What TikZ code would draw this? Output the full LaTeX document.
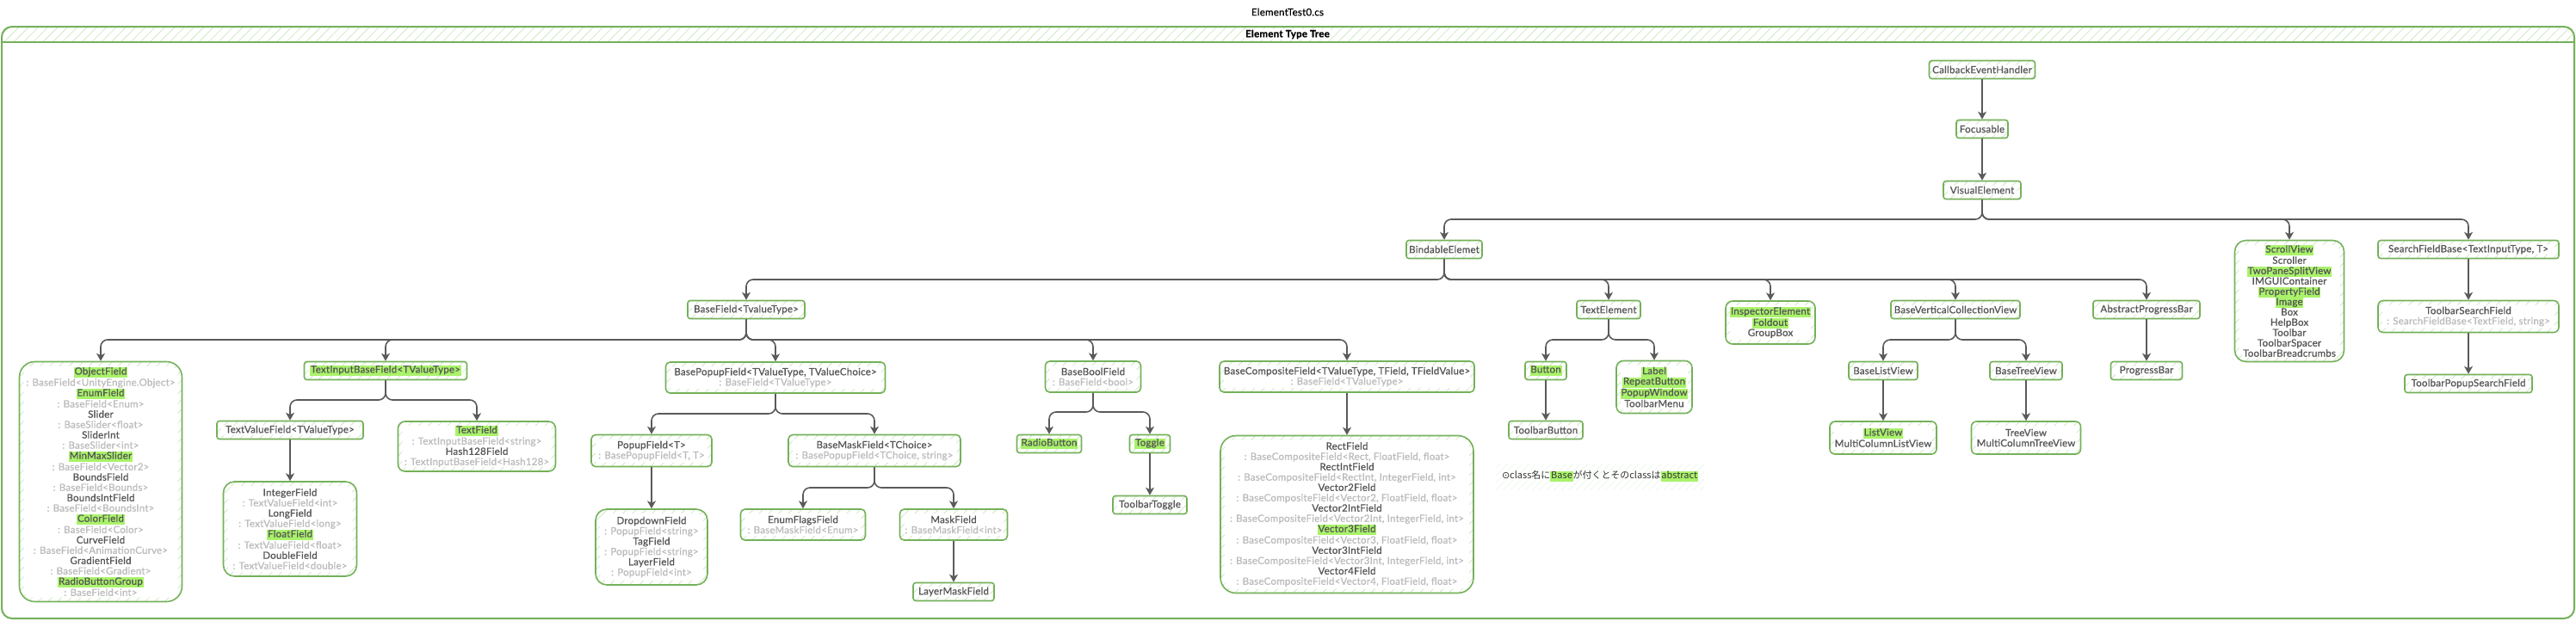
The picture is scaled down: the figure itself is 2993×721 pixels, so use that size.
\documentclass[tikz,border=0pt]{standalone}
\usepackage{fontspec}
\setmainfont{Lato}[LetterSpace=2,FakeBold=0.7]
\newfontfamily\cjk{Noto Sans CJK JP}
\newfontfamily\djv{DejaVu Sans}
\usetikzlibrary{arrows.meta,patterns.meta}
\definecolor{bxg}{HTML}{74B15A}
\definecolor{hatchg}{HTML}{CFE9C2}
\definecolor{hlg}{HTML}{A9F26A}
\definecolor{txt}{HTML}{555555}
\definecolor{subg}{HTML}{BBBBBB}
\definecolor{arr}{HTML}{5A5A5A}
\newcommand\hl[1]{{\setlength\fboxsep{0pt}\colorbox{hlg}{\kern0.8pt\strut #1\kern0.8pt}}}
\newcommand\sub[1]{{\color{subg}#1}}
\newcommand\hatchpic[1]{%
  \fill[pattern={Lines[angle=45,distance=8pt,line width=0.8pt]}, pattern color=hatchg] (path picture bounding box.south west) rectangle (path picture bounding box.north east);
  \fill[white, rounded corners=#1] ([shift={(5pt,5pt)}]path picture bounding box.south west) rectangle ([shift={(-5pt,-5pt)}]path picture bounding box.north east);}
\newcommand\tedge[3]{\draw[conn] (#1.south) -- (#1.south |- 0,#3) -- (#2.north |- 0,#3) -- (#2.north);}
\newcommand\sedge[2]{\draw[conn] (#1.south) -- (#2.north);}
\tikzset{
  bx/.style={draw=bxg, line width=1.6pt, rounded corners=3pt, fill=white, text=txt, align=center, inner sep=1.5pt,
    font=\fontsize{11.5}{12}\selectfont, path picture={\hatchpic{2pt}}},
  bigbx/.style={bx, rounded corners=13pt, path picture={\hatchpic{9pt}}},
  sz/.style 2 args={minimum width=#1pt, minimum height=#2pt},
  conn/.style={draw=arr, line width=1.6pt, rounded corners=8pt, -{Stealth[length=9pt,width=10pt,inset=2.5pt]}},
}
\begin{document}
\begin{tikzpicture}[x=1pt,y=-1pt]
\useasboundingbox (0,0) rectangle (2993,721);
% frame
\node[font=\fontsize{11.5}{12}\selectfont] (title) at (1496,14) {ElementTest0.cs};
\fill[pattern={Lines[angle=45,distance=8pt,line width=0.8pt]}, pattern color=hatchg] (4,32) rectangle (2989,49);
\draw[bxg, line width=2pt, rounded corners=12pt] (2,31) rectangle (2991,719);
\draw[bxg, line width=2pt] (2,49) -- (2991,49);
\node[fill=white, inner sep=1pt, font=\bfseries\fontsize{11.5}{12}\selectfont] (hdr) at (1496,40) {Element Type Tree};

% top chain
\node[bx, sz={123}{21}] (ceh) at (2303,81) {CallbackEventHandler};
\node[bx, sz={60}{21}] (foc) at (2303,150) {Focusable};
\node[bx, sz={90}{21}] (ve) at (2303,221) {VisualElement};
\node[bx, sz={88}{21}] (be) at (1678,290) {BindableElemet};
\node[bigbx, sz={127}{141}] (sv) at (2660,350) {\hl{ScrollView}\\Scroller\\\hl{TwoPaneSplitView}\\IMGUIContainer\\\hl{PropertyField}\\\hl{Image}\\Box\\HelpBox\\Toolbar\\ToolbarSpacer\\ToolbarBreadcrumbs};
\node[bx, sz={210}{21}] (sfb) at (2868,290) {SearchFieldBase<TextInputType, T>};
\node[bx, rounded corners=6pt, sz={210}{37}] (tsf) at (2868,368) {ToolbarSearchField\\\sub{: SearchFieldBase<TextField, string>}};
\node[bx, sz={148}{21}] (tpsf) at (2868,446) {ToolbarPopupSearchField};

% level under BindableElemet
\node[bx, sz={136}{21}] (bf) at (867,360) {BaseField<TvalueType>};
\node[bx, sz={74}{21}] (te) at (1869,360) {TextElement};
\node[bx, rounded corners=8pt, sz={104}{50}] (ie) at (2057,375) {\hl{InspectorElement}\\\hl{Foldout}\\GroupBox};
\node[bx, sz={150}{21}] (bvcv) at (2272,360) {BaseVerticalCollectionView};
\node[bx, sz={124}{21}] (apb) at (2494,360) {AbstractProgressBar};

\node[bx, sz={48}{21}] (btn) at (1796,431) {\hl{Button}};
\node[bx, rounded corners=8pt, sz={88}{61}] (lbl) at (1922,450) {\hl{Label}\\\hl{RepeatButton}\\\hl{PopupWindow}\\ToolbarMenu};
\node[bx, sz={86}{21}] (tbb) at (1796,500) {ToolbarButton};
\node[bx, sz={80}{21}] (blv) at (2188,431) {BaseListView};
\node[bx, sz={84}{21}] (btv) at (2354,431) {BaseTreeView};
\node[bx, sz={83}{21}] (pb) at (2494,431) {ProgressBar};
\node[bx, rounded corners=6pt, sz={124}{38}] (lv) at (2188,509) {\hl{ListView}\\MultiColumnListView};
\node[bx, rounded corners=6pt, sz={127}{38}] (tv) at (2354,509) {TreeView\\MultiColumnTreeView};

% BaseField children
\node[bigbx, rounded corners=18pt, sz={189}{279}] (of) at (117,560) {\hl{ObjectField}\\\sub{: BaseField<UnityEngine.Object>}\\\hl{EnumField}\\\sub{: BaseField<Enum>}\\Slider\\\sub{: BaseSlider<float>}\\SliderInt\\\sub{: BaseSlider<int>}\\\hl{MinMaxSlider}\\\sub{: BaseField<Vector2>}\\BoundsField\\\sub{: BaseField<Bounds>}\\BoundsIntField\\\sub{: BaseField<BoundsInt>}\\\hl{ColorField}\\\sub{: BaseField<Color>}\\CurveField\\\sub{: BaseField<AnimationCurve>}\\GradientField\\\sub{: BaseField<Gradient>}\\\hl{RadioButtonGroup}\\\sub{: BaseField<int>}};
\node[bx, sz={189}{21}] (tibf) at (448,431) {\hl{TextInputBaseField<TValueType>}};
\node[bx, rounded corners=5pt, sz={255}{36}] (bpf) at (901,439) {BasePopupField<TValueType, TValueChoice>\\\sub{: BaseField<TValueType>}};
\node[bx, rounded corners=5pt, sz={111}{36}] (bbf) at (1270,438) {BaseBoolField\\\sub{: BaseField<bool>}};
\node[bx, rounded corners=5pt, sz={296}{36}] (bcf) at (1565,438) {BaseCompositeField<TValueType, TField, TFieldValue>\\\sub{: BaseField<TValueType>}};

\node[bx, sz={170}{21}] (tvf) at (337,500) {TextValueField<TValueType>};
\node[bx, rounded corners=8pt, sz={183}{58}] (tf) at (554,519) {\hl{TextField}\\\sub{: TextInputBaseField<string>}\\Hash128Field\\\sub{: TextInputBaseField<Hash128>}};
\node[bigbx, sz={155}{110}] (intf) at (337,615) {IntegerField\\\sub{: TextValueField<int>}\\LongField\\\sub{: TextValueField<long>}\\\hl{FloatField}\\\sub{: TextValueField<float>}\\DoubleField\\\sub{: TextValueField<double>}};

\node[bx, rounded corners=5pt, sz={140}{37}] (pf) at (757,524) {PopupField<T>\\\sub{: BasePopupField<T, T>}};
\node[bx, rounded corners=5pt, sz={200}{37}] (bmf) at (1016,524) {BaseMaskField<TChoice>\\\sub{: BasePopupField<TChoice, string>}};
\node[bigbx, sz={130}{88}] (ddf) at (757,636) {DropdownField\\\sub{: PopupField<string>}\\TagField\\\sub{: PopupField<string>}\\LayerField\\\sub{: PopupField<int>}};
\node[bx, rounded corners=5pt, sz={145}{36}] (eff) at (933,610) {EnumFlagsField\\\sub{: BaseMaskField<Enum>}};
\node[bx, rounded corners=5pt, sz={125}{36}] (mf) at (1108,610) {MaskField\\\sub{: BaseMaskField<int>}};
\node[bx, sz={94}{21}] (lmf) at (1108,688) {LayerMaskField};

\node[bx, sz={75}{21}] (rb) at (1219,516) {\hl{RadioButton}};
\node[bx, sz={47}{21}] (tg) at (1336,516) {\hl{Toggle}};
\node[bx, sz={86}{21}] (ttg) at (1336,587) {ToolbarToggle};

\node[bigbx, rounded corners=18pt, sz={294}{183}] (rf) at (1565,598) {RectField\\\sub{: BaseCompositeField<Rect, FloatField, float>}\\RectIntField\\\sub{: BaseCompositeField<RectInt, IntegerField, int>}\\Vector2Field\\\sub{: BaseCompositeField<Vector2, FloatField, float>}\\Vector2IntField\\\sub{: BaseCompositeField<Vector2Int, IntegerField, int>}\\\hl{Vector3Field}\\\sub{: BaseCompositeField<Vector3, FloatField, float>}\\Vector3IntField\\\sub{: BaseCompositeField<Vector3Int, IntegerField, int>}\\Vector4Field\\\sub{: BaseCompositeField<Vector4, FloatField, float>}};

% note
\node[pattern={Lines[angle=45,distance=6pt,line width=0.6pt]}, pattern color=hatchg!45, sz={242}{30}, text=black!80, font=\cjk\fontsize{11}{12}\selectfont] (note) at (1859,554) {{\djv ⊙}class名に\hl{Base}が付くとそのclassは\hl{abstract}};

% connectors
\sedge{ceh}{foc}
\sedge{foc}{ve}
\tedge{ve}{be}{255}
\tedge{ve}{sv}{255}
\tedge{ve}{sfb}{255}
\sedge{sfb}{tsf}
\sedge{tsf}{tpsf}
\tedge{be}{bf}{325}
\tedge{be}{te}{325}
\tedge{be}{ie}{325}
\tedge{be}{bvcv}{325}
\tedge{be}{apb}{325}
\tedge{te}{btn}{395}
\tedge{te}{lbl}{395}
\sedge{btn}{tbb}
\tedge{bvcv}{blv}{395}
\tedge{bvcv}{btv}{395}
\sedge{blv}{lv}
\sedge{btv}{tv}
\sedge{apb}{pb}
\tedge{bf}{of}{395}
\tedge{bf}{tibf}{395}
\tedge{bf}{bpf}{395}
\tedge{bf}{bbf}{395}
\tedge{bf}{bcf}{395}
\tedge{tibf}{tvf}{465}
\tedge{tibf}{tf}{465}
\sedge{tvf}{intf}
\tedge{bpf}{pf}{481}
\tedge{bpf}{bmf}{481}
\sedge{pf}{ddf}
\tedge{bmf}{eff}{567}
\tedge{bmf}{mf}{567}
\sedge{mf}{lmf}
\tedge{bbf}{rb}{479}
\tedge{bbf}{tg}{479}
\sedge{tg}{ttg}
\sedge{bcf}{rf}
\end{tikzpicture}
\end{document}
